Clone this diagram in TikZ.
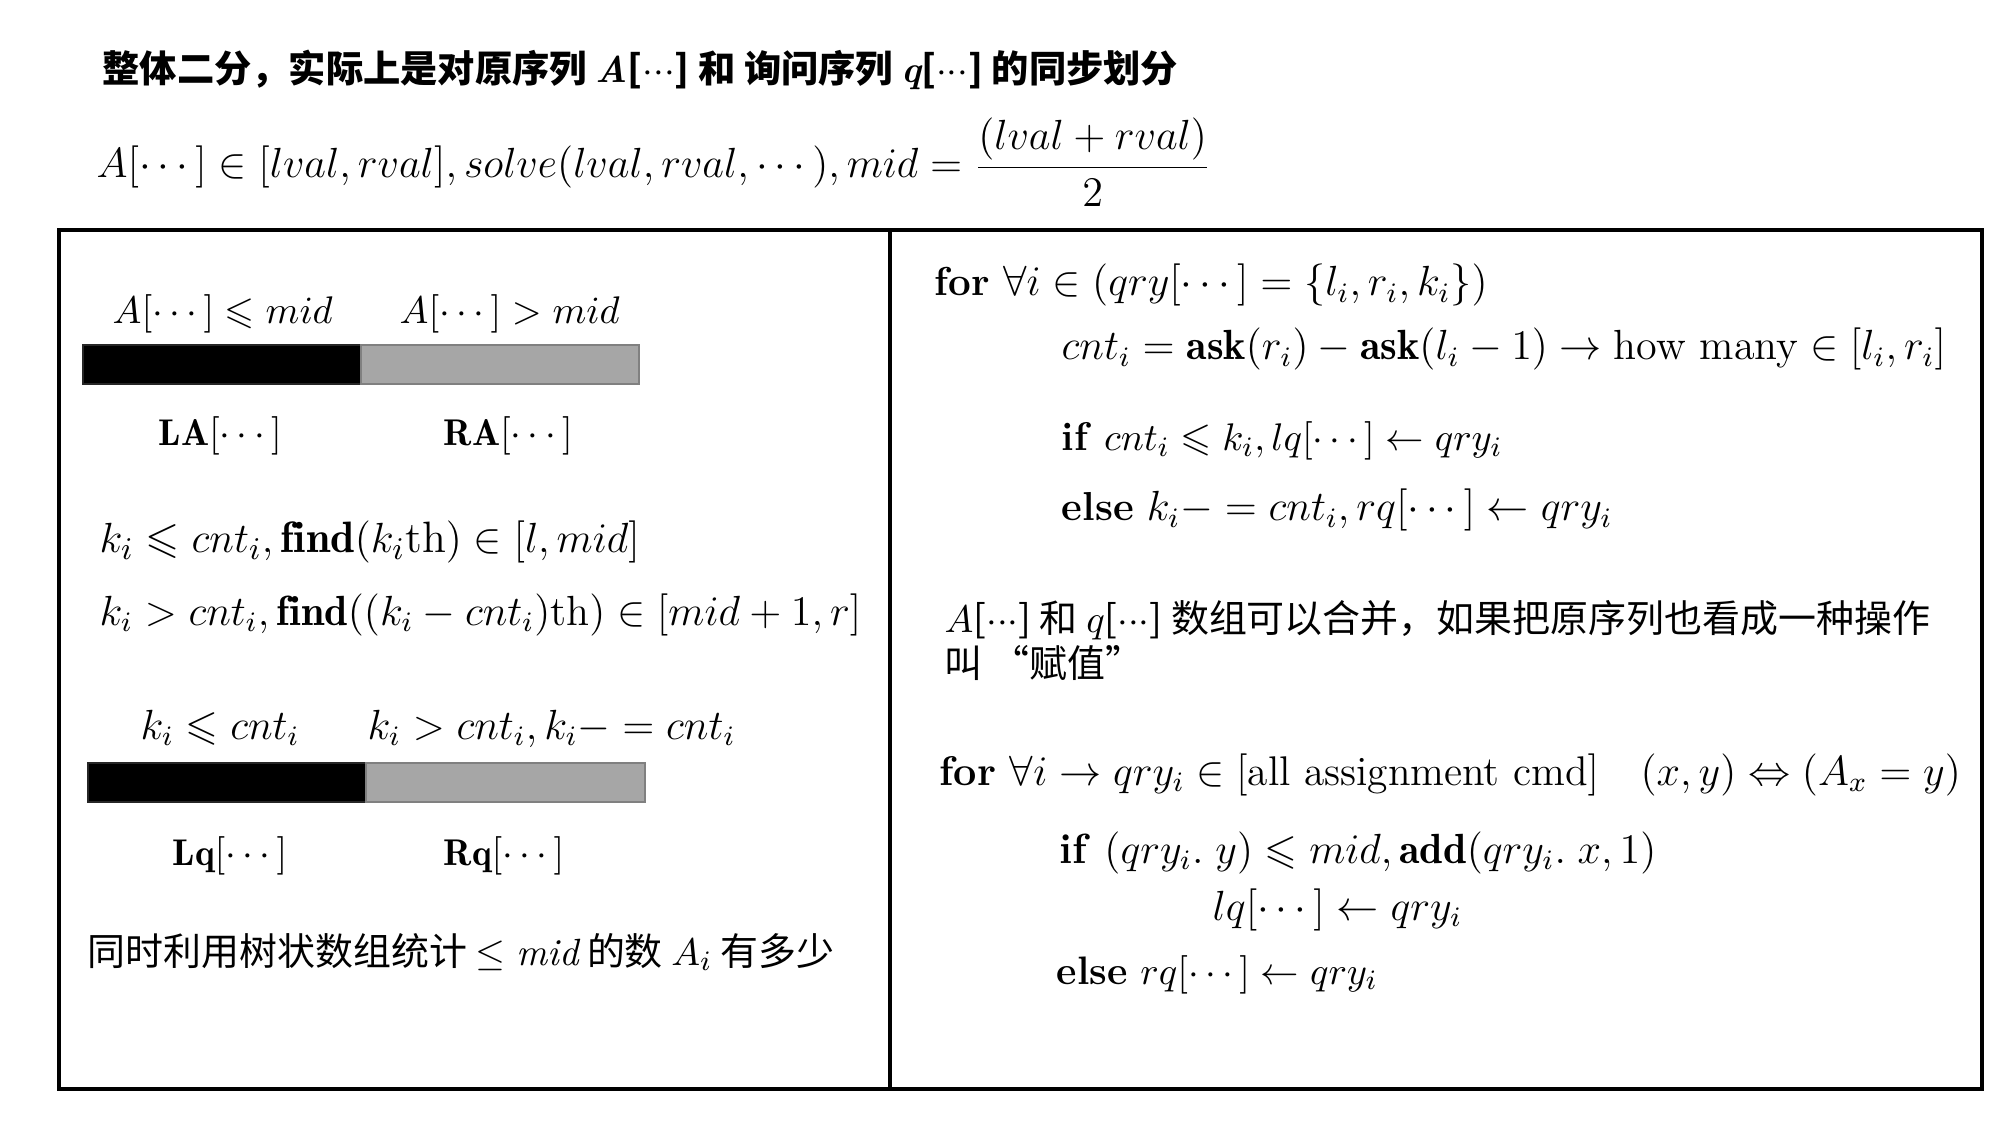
\documentclass[tikz,border=0pt]{standalone}
\usepackage{amssymb}
\usepackage{amsmath}
\usepackage{fontspec}
\newfontfamily\cjk{Noto Sans CJK SC}
\usepackage{tikz}
\usetikzlibrary{positioning}

\newcommand{\bvar}[1]{{\rmfamily\bfseries\itshape #1}}
\newcommand{\mdots}{\ensuremath{\mathord{\cdot}\mathord{\cdot}\mathord{\cdot}}}

\begin{document}
\begin{tikzpicture}[
  txt/.style={anchor=base west, inner sep=0pt, font=\fontsize{12}{14}\selectfont},
  sz/.style={font=\fontsize{#1}{14}\selectfont},
  ctxt/.style={anchor=base west, inner sep=0pt, font=\cjk\fontsize{10.8}{14}\selectfont},
  btxt/.style={anchor=base west, inner sep=0pt, font=\cjk\bfseries\fontsize{10.6}{14}\selectfont},
  frame/.style={line width=1.3pt, draw=black},
  lowbar/.style={fill=black, draw=black!85, line width=0.5pt},
  highbar/.style={fill=black!35, draw=black!50, line width=0.8pt},
]
\useasboundingbox (0,0) rectangle (20,11.25);
% ---------------- heading ----------------
\node[btxt] (title) at (1.02,10.42) {整体二分，实际上是对原序列 \bvar{A}[\mdots] 和 询问序列 \bvar{q}[\mdots] 的同步划分};
\node[txt] (range) at (0.96,9.47) {$A[\cdots]\in[lval,rval], solve(lval,rval,\cdots), mid=\dfrac{(lval+rval)}{2}$};
% ---------------- frame ----------------
\draw[frame] (0.59,0.36) rectangle (19.82,8.95);
\draw[frame] (8.90,0.36) -- (8.90,8.95);
% ---------------- left panel : A split ----------------
\node[txt, sz=11] (alow) at (1.12,8.01) {$A[\cdots]\leqslant mid$};
\node[txt, sz=11] (ahigh) at (3.99,8.01) {$A[\cdots]>mid$};
\draw[lowbar] (0.83,7.41) rectangle (3.61,7.80);
\draw[highbar] (3.61,7.41) rectangle (6.39,7.80);
\node[txt, sz=10.6] (la) at (1.58,6.80) {$\mathbf{LA}[\cdots]$};
\node[txt, sz=10.6] (ra) at (4.43,6.80) {$\mathbf{RA}[\cdots]$};
\node[txt, sz=12.5] (findl) at (0.99,5.72) {$k_i\leqslant cnt_i,\mathbf{find}(k_i\mathrm{th})\in[l,mid]$};
\node[txt] (findr) at (0.99,5.00) {$k_i>cnt_i,\mathbf{find}((k_i-cnt_i)\mathrm{th})\in[mid+1,r]$};
% ---------------- left panel : q split ----------------
\node[txt] (qlow) at (1.40,3.86) {$k_i\leqslant cnt_i$};
\node[txt] (qhigh) at (3.67,3.86) {$k_i>cnt_i,k_i-=cnt_i$};
\draw[lowbar] (0.88,3.23) rectangle (3.66,3.62);
\draw[highbar] (3.66,3.23) rectangle (6.45,3.62);
\node[txt, sz=10.6] (lq) at (1.72,2.60) {$\mathbf{Lq}[\cdots]$};
\node[txt, sz=10.6] (rq) at (4.43,2.60) {$\mathbf{Rq}[\cdots]$};
\node[ctxt] (bit) at (0.87,1.60) {同时利用树状数组统计 $\leq \mathit{mid}$ 的数 $A_i$ 有多少};
% ---------------- right panel : query loop ----------------
\node[txt, sz=11.5] (for1) at (9.34,8.29) {\textbf{for} $\forall i\in(qry[\cdots]=\{l_i,r_i,k_i\})$};
\node[txt] (cnt) at (10.61,7.65) {$cnt_i=\mathbf{ask}(r_i)-\mathbf{ask}(l_i-1)\rightarrow\text{how many}\in[l_i,r_i]$};
\node[txt, sz=11.4] (if1) at (10.61,6.74) {\textbf{if} $cnt_i\leqslant k_i,lq[\cdots]\leftarrow qry_i$};
\node[txt, sz=11.5] (else1) at (10.61,6.04) {\textbf{else} $k_i-=cnt_i,rq[\cdots]\leftarrow qry_i$};
% ---------------- right panel : merged loop ----------------
\node[ctxt] (merge) at (9.44,4.93) {$A$[\mdots] 和 $q$[\mdots] 数组可以合并，如果把原序列也看成一种操作};
\node[ctxt] (assign) at (9.44,4.48) {叫 “赋值”};
\node[txt, sz=11.8] (for2) at (9.39,3.40) {\textbf{for} $\forall i\rightarrow qry_i\in[\text{all assignment cmd}]\quad(x,y)\Leftrightarrow(A_x=y)$};
\node[txt] (if2) at (10.59,2.62) {\textbf{if} $(qry_i.\;y)\leqslant mid,\mathbf{add}(qry_i.\;x,1)$};
\node[txt] (lq2) at (12.12,2.05) {$lq[\cdots]\leftarrow qry_i$};
\node[txt, sz=11.3] (else2) at (10.56,1.41) {\textbf{else} $rq[\cdots]\leftarrow qry_i$};
\end{tikzpicture}
\end{document}
